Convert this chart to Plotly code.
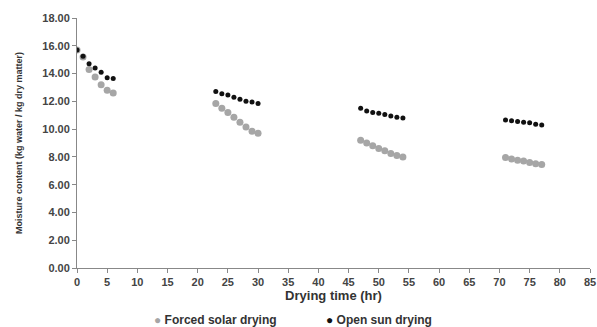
import plotly.graph_objects as go

hours_forced = [0, 1, 2, 3, 4, 5, 6,
                23, 24, 25, 26, 27, 28, 29, 30,
                47, 48, 49, 50, 51, 52, 53, 54,
                71, 72, 73, 74, 75, 76, 77]
forced_solar = [15.7, 15.2, 14.3, 13.75, 13.2, 12.8, 12.6,
                11.85, 11.5, 11.2, 10.85, 10.5, 10.15, 9.85, 9.7,
                9.2, 9.0, 8.8, 8.6, 8.45, 8.25, 8.1, 8.0,
                7.95, 7.85, 7.75, 7.7, 7.6, 7.5, 7.45]

hours_open = hours_forced
open_sun = [15.7, 15.25, 14.7, 14.4, 14.1, 13.7, 13.65,
            12.7, 12.55, 12.45, 12.3, 12.15, 12.0, 11.95, 11.85,
            11.5, 11.3, 11.2, 11.15, 11.05, 10.95, 10.85, 10.8,
            10.65, 10.6, 10.55, 10.5, 10.45, 10.35, 10.3]

series_names = ["Forced solar drying", "Open sun drying"]
series_colors = ["#a6a6a6", "#111111"]

x_ticks = list(range(0, 90, 5))
y_ticks = list(range(0, 20, 2))

fig = go.Figure()
fig.add_trace(go.Scatter(x=hours_forced, y=forced_solar, mode="markers",
                         name=series_names[0],
                         marker=dict(color=series_colors[0], size=7, line=dict(width=0))))
fig.add_trace(go.Scatter(x=hours_open, y=open_sun, mode="markers",
                         name=series_names[1],
                         marker=dict(color=series_colors[1], size=5, line=dict(width=0))))

# legend drawn as annotations (marker glyph tight to text, as in the reference)
legend_x = [0.146, 0.482]
for name, col, lx in zip(series_names, series_colors, legend_x):
    fig.add_annotation(xref="paper", yref="paper", x=lx, y=-0.208,
                       xanchor="left", yanchor="middle", showarrow=False,
                       text=f"<span style='color:{col}'>●</span> {name}",
                       font=dict(size=12, color="#333", weight="bold"))

font_family = "Liberation Sans, Arial, sans-serif"
fig.update_layout(
    width=597, height=327,
    margin=dict(l=77, r=7, t=18, b=59),
    paper_bgcolor="white", plot_bgcolor="white",
    font=dict(family=font_family, color="#444"),
    showlegend=False,
    xaxis=dict(range=[0, 85], tickvals=x_ticks, ticktext=[str(v) for v in x_ticks],
               automargin=False,
               showgrid=False, zeroline=False, showline=True, linecolor="#888", linewidth=1,
               ticks="outside", ticklen=4, tickcolor="#888",
               tickfont=dict(size=11, color="#444", weight="bold"),
               title=dict(text="Drying time (hr)", font=dict(size=13, color="#333", weight="bold"),
                          standoff=0)),
    yaxis=dict(range=[0, 18], tickvals=y_ticks, tickformat=".2f",
               automargin=False,
               showgrid=False, zeroline=False, showline=True, linecolor="#888", linewidth=1,
               ticks="outside", ticklen=4, tickcolor="#888",
               tickfont=dict(size=11, color="#444", weight="bold"),
               title=dict(text="Moisture content (kg water / kg dry matter)",
                          font=dict(size=9, color="#333", weight="bold"), standoff=18)),
)

fig.write_html("out.html")
